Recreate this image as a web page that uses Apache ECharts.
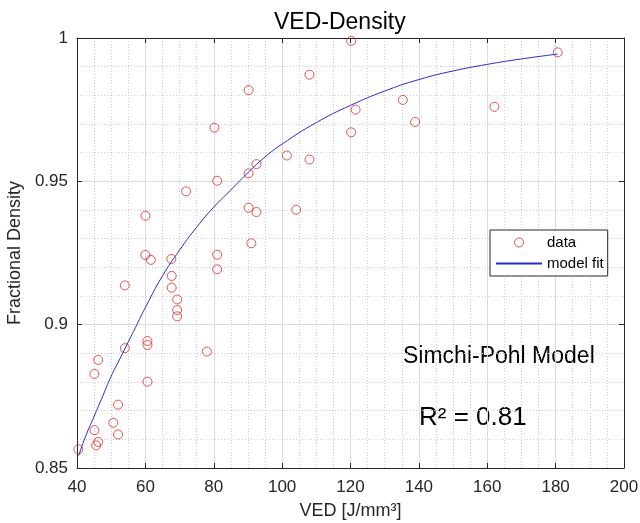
<!DOCTYPE html>
<html>
<head>
<meta charset="utf-8">
<script src="https://cdn.jsdelivr.net/npm/echarts@6/dist/echarts.min.js"></script>
<style>
html,body{margin:0;padding:0;background:#fff;}
#chart{width:640px;height:523px;}
</style>
</head>
<body>
<div id="chart"></div>
<script>
// ---- data ----
const vedData = [40.4, 45.1, 45.6, 46.2, 45.1, 46.2, 50.6, 52.0, 52.0, 54.0, 54.0,
  60.0, 60.0, 61.6, 60.6, 60.6, 60.6, 67.6, 67.7, 67.7, 69.3, 69.3, 69.3, 71.9, 78.0,
  80.2, 81.0, 81.0, 81.0, 90.2, 90.2, 92.5, 90.2, 92.5, 91.0, 101.4, 104.1, 108.0, 108.0,
  120.2, 120.2, 121.5, 135.3, 138.9, 162.1, 180.6];
const densityData = [0.8565, 0.8632, 0.8579, 0.8591, 0.8828, 0.8877, 0.8658, 0.8617, 0.8721, 0.8918, 0.9137,
  0.9380, 0.9243, 0.9226, 0.8943, 0.8929, 0.8801, 0.9229, 0.9170, 0.9129, 0.9088, 0.9051, 0.9029, 0.9465, 0.8906,
  0.9687, 0.9502, 0.9244, 0.9193, 0.9818, 0.9528, 0.9560, 0.9408, 0.9393, 0.9284, 0.9590, 0.9401, 0.9872, 0.9576,
  0.9990, 0.9671, 0.9750, 0.9784, 0.9707, 0.9760, 0.9950];
const fitVed = [40.5, 42.5, 45, 47.5, 50, 52.5, 55, 57.5, 60, 65, 70, 75, 80, 85, 90, 95, 100, 110, 120, 130, 140, 150, 160, 170, 180.6];
const fitDensity = [0.8543, 0.861, 0.868, 0.875, 0.882, 0.888, 0.894, 0.900, 0.906, 0.917, 0.926, 0.934, 0.941, 0.947, 0.953,
  0.9585, 0.963, 0.9705, 0.9765, 0.9815, 0.9855, 0.9885, 0.9908, 0.9927, 0.9944];
const xTickValues = [40, 60, 80, 100, 120, 140, 160, 180, 200];
const yTickValues = [0.85, 0.9, 0.95, 1];
const titleText = 'VED-Density';
const xName = 'VED [J/mm\u00b3]';
const yName = 'Fractional Density';
const seriesNames = ['data', 'model fit'];
const annotationModel = 'Simchi-Pohl Model';
const annotationR2 = 'R\u00b2 = 0.81';

// ---- chart ----
const FONT = '"Liberation Sans", Arial, Helvetica, sans-serif';
const AX = '#262626';
const xMin = xTickValues[0], xMax = xTickValues[xTickValues.length - 1], xStep = xTickValues[1] - xTickValues[0];
const yMin = yTickValues[0], yMax = yTickValues[yTickValues.length - 1];
const yStep = +(yTickValues[1] - yTickValues[0]).toFixed(4);

const scatterPoints = vedData.map((v, i) => [v, densityData[i]]);
const fitPoints = fitVed.map((v, i) => [v, fitDensity[i]]);

function baseX(extra) {
  return Object.assign({
    type: 'value', min: xMin, max: xMax, interval: xStep,
    axisLine: { show: true, onZero: false, lineStyle: { color: AX, width: 1 } },
    axisTick: { show: true, inside: true, length: 5, lineStyle: { color: AX } },
    splitLine: { show: false },
    minorTick: { show: false, splitNumber: 4 },
    minorSplitLine: { show: false }
  }, extra);
}
function baseY(extra) {
  return Object.assign({
    type: 'value', min: yMin, max: yMax, interval: yStep,
    axisLine: { show: true, onZero: false, lineStyle: { color: AX, width: 1 } },
    axisTick: { show: true, inside: true, length: 5, lineStyle: { color: AX } },
    splitLine: { show: false },
    minorTick: { show: false, splitNumber: 5 },
    minorSplitLine: { show: false }
  }, extra);
}

const chart = echarts.init(document.getElementById('chart'), null, { renderer: 'canvas' });
chart.setOption({
  backgroundColor: '#ffffff',
  animation: false,
  textStyle: { fontFamily: FONT },
  title: {
    text: titleText, left: 269, top: 6,
    textStyle: { fontFamily: FONT, fontSize: 23, fontWeight: 'normal', color: '#000' }
  },
  grid: { left: 77, right: 16, top: 38, bottom: 55, containLabel: false, outerBoundsMode: 'none' },
  xAxis: [
    baseX({
      position: 'bottom',
      name: xName, nameLocation: 'middle', nameGap: 34,
      nameTextStyle: { fontFamily: FONT, fontSize: 18, color: AX },
      axisLabel: { show: true, fontFamily: FONT, fontSize: 17, color: AX, margin: 11 },
      splitLine: { show: true, lineStyle: { color: '#dcdcdc', width: 1 } },
      minorSplitLine: { show: true, lineStyle: { color: '#cfcfcf', width: 1, type: [1, 2] } }
    }),
    baseX({ position: 'top', axisLabel: { show: false } })
  ],
  yAxis: [
    baseY({
      position: 'left',
      name: yName, nameLocation: 'middle', nameGap: 45,
      nameTextStyle: { fontFamily: FONT, fontSize: 18, color: AX },
      axisLabel: { show: true, fontFamily: FONT, fontSize: 17, color: AX, margin: 9,
        formatter: v => String(+v.toFixed(2)) },
      splitLine: { show: true, lineStyle: { color: '#dcdcdc', width: 1 } },
      minorSplitLine: { show: true, lineStyle: { color: '#cfcfcf', width: 1, type: [1, 2] } }
    }),
    baseY({ position: 'right', axisLabel: { show: false } })
  ],
  legend: {
    orient: 'vertical', left: 490, top: 230,
    backgroundColor: '#fff', borderColor: AX, borderWidth: 1,
    padding: [5, 4, 5, 5], itemGap: 6, itemWidth: 46, itemHeight: 9,
    textStyle: { fontFamily: FONT, fontSize: 15, color: '#000' },
    data: [
      { name: seriesNames[0],
        itemStyle: { color: 'rgba(255,255,255,0)', borderColor: '#e02828', borderWidth: 1 } },
      { name: seriesNames[1],
        itemStyle: { color: 'rgba(0,0,0,0)', borderColor: 'rgba(0,0,0,0)', borderWidth: 0, opacity: 0 } }
    ]
  },
  series: [
    {
      name: seriesNames[0], type: 'scatter', data: scatterPoints,
      symbol: 'circle', symbolSize: 9,
      itemStyle: { color: 'rgba(255,255,255,0)', borderColor: '#e02828', borderWidth: 1 },
      emphasis: { disabled: true }, z: 3
    },
    {
      name: seriesNames[1], type: 'line', data: fitPoints,
      symbol: 'none', smooth: true,
      lineStyle: { color: '#2a2acc', width: 1 },
      itemStyle: { color: '#2a2acc' },
      emphasis: { disabled: true }, z: 4
    }
  ],
  graphic: [
    { type: 'text', left: 403, top: 345,
      style: { text: annotationModel, font: '23px ' + FONT, fill: '#000' } },
    { type: 'text', left: 419, top: 405,
      style: { text: annotationR2, font: '26px ' + FONT, fill: '#000' } }
  ]
});
</script>
</body>
</html>
